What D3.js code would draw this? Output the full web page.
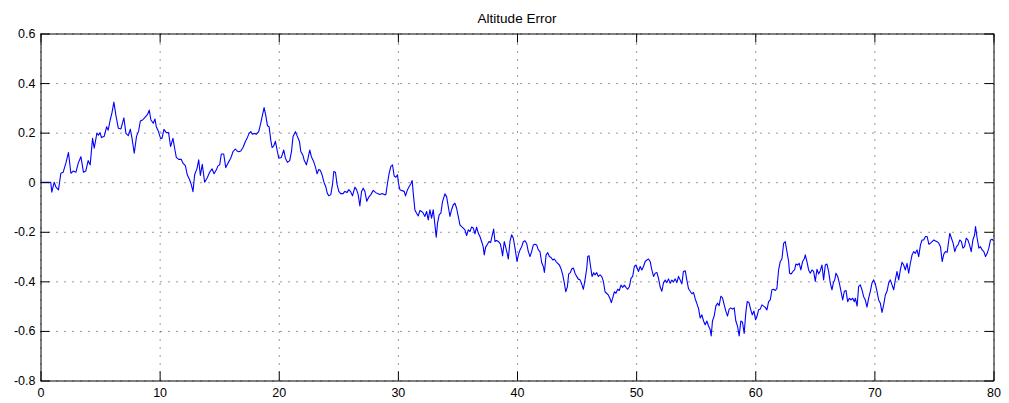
<!DOCTYPE html>
<html>
<head>
<meta charset="utf-8">
<script src="https://cdn.jsdelivr.net/npm/d3@7/dist/d3.min.js"></script>
<style>
  html, body { margin: 0; padding: 0; background: #fff; }
  svg { display: block; font-family: "Liberation Sans", Arial, Helvetica, sans-serif; }
</style>
</head>
<body>
<svg id="chart" width="1009" height="403"></svg>
<script>
// Altitude error samples: [time, error]
const trace = [
  [0,0],[0.86,0],[0.95,-0.04],[1.15,0.0],[1.3,-0.02],[1.51,-0.031],[1.71,0.036],[1.9,0.04],[2.13,0.077],[2.35,0.12],
  [2.55,0.036],[2.74,0.045],[2.97,0.04],[3.17,0.077],[3.39,0.103],[3.61,0.04],[3.8,0.045],[4.0,0.087],[4.17,0.07],[4.37,0.177],
  [4.51,0.137],[4.73,0.197],[4.87,0.19],[5.0,0.2],[5.12,0.18],[5.35,0.185],[5.55,0.224],[5.68,0.21],[5.85,0.251],[5.99,0.278],
  [6.16,0.323],[6.33,0.27],[6.53,0.218],[6.75,0.215],[7.0,0.26],[7.17,0.197],[7.37,0.188],[7.54,0.214],[7.68,0.178],[7.87,0.117],
  [8.06,0.185],[8.24,0.207],[8.38,0.247],[8.57,0.251],[8.77,0.262],[8.99,0.274],[9.13,0.291],[9.27,0.251],[9.47,0.238],[9.61,0.255],
  [9.72,0.224],[9.86,0.21],[10.08,0.177],[10.2,0.177],[10.36,0.213],[10.56,0.2],[10.75,0.2],[10.92,0.144],[11.12,0.177],[11.26,0.137],
  [11.4,0.1],[11.6,0.092],[11.82,0.092],[11.96,0.077],[12.16,0.067],[12.32,0.03],[12.52,0.01],[12.66,-0.01],[12.8,-0.038],[12.94,0.03],
  [13.14,0.056],[13.28,0.09],[13.42,0.027],[13.58,0.072],[13.78,0.0],[14.0,0.018],[14.2,0.04],[14.4,0.054],[14.57,0.034],[14.76,0.05],
  [14.9,0.066],[15.04,0.07],[15.18,0.114],[15.38,0.114],[15.55,0.059],[15.74,0.077],[15.97,0.097],[16.16,0.123],[16.36,0.134],[16.5,0.126],
  [16.64,0.123],[16.81,0.126],[17.0,0.14],[17.2,0.164],[17.34,0.177],[17.51,0.197],[17.65,0.204],[17.79,0.194],[17.93,0.197],[18.13,0.194],
  [18.32,0.204],[18.49,0.238],[18.6,0.264],[18.77,0.301],[18.91,0.27],[19.05,0.228],[19.19,0.224],[19.33,0.17],[19.44,0.14],[19.58,0.147],
  [19.72,0.165],[19.88,0.125],[20.0,0.097],[20.22,0.1],[20.42,0.13],[20.56,0.097],[20.73,0.08],[20.92,0.087],[21.07,0.124],[21.2,0.184],
  [21.4,0.204],[21.57,0.184],[21.74,0.164],[21.85,0.124],[22.02,0.11],[22.13,0.09],[22.32,0.07],[22.46,0.097],[22.6,0.13],[22.74,0.103],
  [22.9,0.087],[23.07,0.063],[23.22,0.034],[23.36,0.052],[23.5,0.047],[23.66,0.026],[23.8,-0.001],[23.94,-0.017],[24.08,-0.045],[24.2,-0.055],
  [24.37,-0.05],[24.51,-0.01],[24.62,0.043],[24.76,0.04],[24.9,-0.01],[25.04,-0.037],[25.2,-0.046],[25.4,-0.046],[25.54,-0.037],[25.74,-0.041],
  [25.88,-0.03],[26.02,-0.037],[26.19,-0.055],[26.39,-0.02],[26.53,-0.03],[26.67,-0.05],[26.81,-0.096],[26.95,-0.037],[27.09,-0.024],[27.23,-0.037],
  [27.39,-0.077],[27.56,-0.06],[27.73,-0.05],[27.93,-0.033],[28.12,-0.041],[28.29,-0.046],[28.49,-0.05],[28.68,-0.046],[28.85,-0.05],[28.99,-0.05],
  [29.13,-0.004],[29.27,0.037],[29.41,0.064],[29.55,0.07],[29.69,0.025],[29.83,0.02],[29.97,0.03],[30.05,-0.005],[30.17,-0.03],[30.36,-0.034],
  [30.53,-0.037],[30.64,-0.055],[30.81,-0.03],[30.95,-0.017],[31.09,-0.006],[31.2,0.007],[31.29,-0.044],[31.43,-0.112],[31.57,-0.125],[31.71,-0.136],
  [31.85,-0.114],[31.99,-0.118],[32.13,-0.125],[32.27,-0.138],[32.41,-0.118],[32.55,-0.152],[32.69,-0.111],[32.83,-0.145],[32.97,-0.111],[33.11,-0.172],
  [33.22,-0.222],[33.33,-0.165],[33.47,-0.131],[33.61,-0.125],[33.75,-0.078],[33.95,-0.047],[34.09,-0.058],[34.23,-0.098],[34.37,-0.138],[34.51,-0.111],
  [34.65,-0.091],[34.79,-0.085],[34.93,-0.105],[35.07,-0.138],[35.21,-0.172],[35.35,-0.179],[35.49,-0.185],[35.63,-0.192],[35.77,-0.215],[35.91,-0.192],
  [36.05,-0.199],[36.19,-0.181],[36.33,-0.185],[36.47,-0.208],[36.61,-0.181],[36.75,-0.205],[36.89,-0.219],[37.03,-0.239],[37.17,-0.262],[37.25,-0.293],
  [37.37,-0.262],[37.53,-0.249],[37.65,-0.239],[37.79,-0.243],[37.93,-0.212],[38.04,-0.189],[38.15,-0.239],[38.29,-0.235],[38.43,-0.239],[38.6,-0.249],
  [38.71,-0.273],[38.79,-0.297],[38.93,-0.239],[39.05,-0.262],[39.19,-0.289],[39.27,-0.31],[39.41,-0.239],[39.55,-0.212],[39.69,-0.226],[39.83,-0.265],
  [40.0,-0.32],[40.11,-0.294],[40.25,-0.273],[40.39,-0.26],[40.53,-0.24],[40.67,-0.236],[40.81,-0.247],[40.95,-0.28],[41.09,-0.3],[41.23,-0.28],
  [41.37,-0.253],[41.51,-0.25],[41.65,-0.253],[41.79,-0.273],[41.93,-0.28],[42.07,-0.324],[42.21,-0.34],[42.3,-0.364],[42.44,-0.294],[42.58,-0.284],
  [42.72,-0.3],[42.86,-0.304],[43.0,-0.314],[43.14,-0.31],[43.28,-0.32],[43.42,-0.327],[43.56,-0.334],[43.7,-0.35],[43.84,-0.374],[43.98,-0.408],
  [44.09,-0.442],[44.23,-0.422],[44.34,-0.37],[44.48,-0.365],[44.59,-0.35],[44.73,-0.346],[44.87,-0.367],[45.01,-0.38],[45.15,-0.391],[45.29,-0.394],
  [45.43,-0.41],[45.57,-0.432],[45.71,-0.394],[45.85,-0.35],[45.94,-0.3],[46.05,-0.297],[46.16,-0.334],[46.3,-0.38],[46.44,-0.365],[46.55,-0.374],
  [46.69,-0.365],[46.83,-0.38],[46.97,-0.374],[47.11,-0.38],[47.25,-0.4],[47.39,-0.442],[47.52,-0.448],[47.66,-0.455],[47.8,-0.468],[47.92,-0.486],
  [48.03,-0.468],[48.17,-0.442],[48.31,-0.448],[48.45,-0.432],[48.59,-0.437],[48.73,-0.415],[48.87,-0.424],[49.01,-0.415],[49.15,-0.424],[49.29,-0.432],
  [49.43,-0.422],[49.57,-0.388],[49.71,-0.38],[49.85,-0.34],[49.99,-0.334],[50.2,-0.36],[50.34,-0.34],[50.48,-0.354],[50.62,-0.34],[50.76,-0.32],
  [50.9,-0.314],[51.04,-0.31],[51.18,-0.32],[51.32,-0.354],[51.46,-0.38],[51.6,-0.367],[51.74,-0.364],[51.88,-0.388],[52.02,-0.423],[52.16,-0.44],
  [52.3,-0.405],[52.44,-0.395],[52.58,-0.405],[52.72,-0.39],[52.86,-0.408],[53.0,-0.395],[53.14,-0.402],[53.28,-0.39],[53.42,-0.405],[53.56,-0.38],
  [53.7,-0.395],[53.84,-0.41],[53.97,-0.36],[54.12,-0.357],[54.26,-0.395],[54.4,-0.43],[54.54,-0.44],[54.68,-0.45],[54.82,-0.445],[54.96,-0.47],
  [55.1,-0.49],[55.24,-0.51],[55.38,-0.548],[55.52,-0.535],[55.66,-0.56],[55.8,-0.575],[55.94,-0.56],[56.08,-0.58],[56.22,-0.595],[56.3,-0.62],
  [56.41,-0.56],[56.55,-0.54],[56.69,-0.5],[56.83,-0.488],[56.97,-0.498],[57.11,-0.46],[57.25,-0.467],[57.39,-0.494],[57.53,-0.52],[57.67,-0.54],
  [57.81,-0.512],[57.95,-0.507],[58.09,-0.512],[58.23,-0.507],[58.37,-0.56],[58.51,-0.58],[58.65,-0.62],[58.79,-0.56],[58.93,-0.565],[59.07,-0.61],
  [59.21,-0.525],[59.33,-0.481],[59.47,-0.485],[59.61,-0.512],[59.75,-0.535],[59.89,-0.52],[60.03,-0.555],[60.14,-0.542],[60.28,-0.515],[60.42,-0.512],
  [60.56,-0.495],[60.7,-0.5],[60.84,-0.505],[60.98,-0.515],[61.12,-0.482],[61.26,-0.475],[61.4,-0.434],[61.54,-0.432],[61.68,-0.437],[61.82,-0.428],
  [61.96,-0.354],[62.1,-0.32],[62.24,-0.31],[62.38,-0.247],[62.52,-0.24],[62.66,-0.28],[62.8,-0.32],[62.88,-0.367],[63.02,-0.37],[63.16,-0.36],
  [63.3,-0.354],[63.41,-0.33],[63.55,-0.334],[63.69,-0.327],[63.83,-0.354],[63.97,-0.32],[64.11,-0.31],[64.2,-0.293],[64.34,-0.32],[64.48,-0.354],
  [64.62,-0.367],[64.76,-0.354],[64.9,-0.36],[65.04,-0.4],[65.18,-0.351],[65.32,-0.37],[65.46,-0.357],[65.6,-0.334],[65.74,-0.394],[65.88,-0.334],
  [66.02,-0.33],[66.16,-0.36],[66.3,-0.407],[66.44,-0.434],[66.55,-0.407],[66.67,-0.394],[66.78,-0.367],[66.92,-0.38],[67.06,-0.407],[67.2,-0.44],
  [67.34,-0.475],[67.48,-0.44],[67.62,-0.437],[67.76,-0.482],[67.9,-0.468],[68.04,-0.475],[68.18,-0.468],[68.32,-0.482],[68.4,-0.468],[68.55,-0.5],
  [68.68,-0.42],[68.82,-0.414],[68.96,-0.434],[69.1,-0.462],[69.24,-0.475],[69.38,-0.504],[69.52,-0.468],[69.66,-0.44],[69.8,-0.407],[69.94,-0.394],
  [70.08,-0.41],[70.22,-0.44],[70.36,-0.475],[70.5,-0.488],[70.64,-0.525],[70.78,-0.495],[70.92,-0.455],[71.06,-0.44],[71.2,-0.407],[71.34,-0.394],
  [71.48,-0.414],[71.62,-0.434],[71.76,-0.394],[71.9,-0.36],[72.04,-0.394],[72.18,-0.354],[72.32,-0.323],[72.46,-0.334],[72.6,-0.354],[72.74,-0.327],
  [72.88,-0.367],[73.02,-0.327],[73.16,-0.294],[73.3,-0.28],[73.44,-0.287],[73.58,-0.273],[73.72,-0.3],[73.87,-0.253],[74.0,-0.233],[74.14,-0.233],
  [74.29,-0.219],[74.43,-0.219],[74.57,-0.25],[74.71,-0.246],[74.85,-0.24],[74.99,-0.233],[75.13,-0.237],[75.27,-0.24],[75.41,-0.246],[75.55,-0.26],
  [75.69,-0.32],[75.83,-0.29],[75.97,-0.28],[76.11,-0.283],[76.25,-0.233],[76.33,-0.206],[76.47,-0.226],[76.61,-0.246],[76.75,-0.28],[76.89,-0.26],
  [77.03,-0.253],[77.17,-0.233],[77.31,-0.24],[77.43,-0.266],[77.57,-0.26],[77.71,-0.226],[77.85,-0.233],[77.99,-0.253],[78.13,-0.28],[78.27,-0.233],
  [78.41,-0.213],[78.49,-0.179],[78.63,-0.226],[78.77,-0.266],[78.91,-0.26],[79.05,-0.273],[79.19,-0.28],[79.33,-0.3],[79.47,-0.287],[79.61,-0.266],
  [79.75,-0.233],[79.89,-0.23],[80.0,-0.237]
];

const xTicks = [0, 10, 20, 30, 40, 50, 60, 70, 80];
const xTickLabels = ["0", "10", "20", "30", "40", "50", "60", "70", "80"];
const yTicks = [-0.8, -0.6, -0.4, -0.2, 0, 0.2, 0.4, 0.6];
const yTickLabels = ["-0.8", "-0.6", "-0.4", "-0.2", "0", "0.2", "0.4", "0.6"];
const chartTitle = "Altitude Error";

const svg = d3.select("#chart");
const box = { left: 40.5, right: 993.5, top: 33.5, bottom: 380.5 };
const plotW = box.right - box.left, plotH = box.bottom - box.top;

const x = d3.scaleLinear().domain([0, 80]).range([box.left, box.right]);
const y = d3.scaleLinear().domain([-0.8, 0.6]).range([box.bottom, box.top]);

// Dotted grid
const grid = svg.append("g").attr("class", "grid");
grid.append("g")
  .attr("transform", `translate(0,${box.bottom})`)
  .call(d3.axisBottom(x).tickValues(xTicks).tickSize(-plotH).tickFormat(""))
  .call(g => g.select(".domain").remove());
grid.append("g")
  .attr("transform", `translate(${box.left},0)`)
  .call(d3.axisLeft(y).tickValues(yTicks).tickSize(-plotW).tickFormat(""))
  .call(g => g.select(".domain").remove());
grid.selectAll("line")
  .attr("stroke", "#333")
  .attr("stroke-width", 1)
  .attr("stroke-dasharray", "1,7");

// Data trace
const line = d3.line().x(d => x(d[0])).y(d => y(d[1]));
svg.append("path")
  .datum(trace)
  .attr("fill", "none")
  .attr("stroke", "#0000ff")
  .attr("stroke-width", 1.1)
  .attr("stroke-linejoin", "round")
  .attr("d", line);

// Boxed axes with inward ticks
const tick = 9;
function styleAxis(g) {
  g.selectAll("line").attr("stroke", "#000");
  g.select(".domain").attr("stroke", "#000");
  g.selectAll("text").attr("fill", "#000").style("font-size", "12.5px")
    .style("font-family", '"Liberation Sans", Arial, Helvetica, sans-serif');
}
svg.append("g")
  .attr("transform", `translate(0,${box.bottom})`)
  .call(d3.axisBottom(x).tickValues(xTicks).tickSizeInner(-tick).tickSizeOuter(0)
    .tickPadding(8).tickFormat((d, i) => xTickLabels[i]))
  .call(styleAxis);
svg.append("g")
  .attr("transform", `translate(0,${box.top})`)
  .call(d3.axisTop(x).tickValues(xTicks).tickSizeInner(-tick).tickSizeOuter(0).tickFormat(""))
  .call(styleAxis);
svg.append("g")
  .attr("transform", `translate(${box.left},0)`)
  .call(d3.axisLeft(y).tickValues(yTicks).tickSizeInner(-tick).tickSizeOuter(0)
    .tickPadding(5).tickFormat((d, i) => yTickLabels[i]))
  .call(styleAxis);
svg.append("g")
  .attr("transform", `translate(${box.right},0)`)
  .call(d3.axisRight(y).tickValues(yTicks).tickSizeInner(-tick).tickSizeOuter(0).tickFormat(""))
  .call(styleAxis);

// Title
svg.append("text")
  .attr("x", (box.left + box.right) / 2)
  .attr("y", 22.5)
  .attr("text-anchor", "middle")
  .style("font-size", "13.5px")
  .attr("fill", "#000")
  .text(chartTitle);
</script>
</body>
</html>
